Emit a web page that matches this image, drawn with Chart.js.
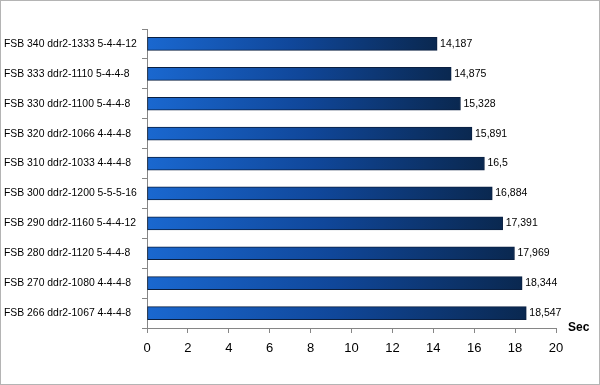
<!DOCTYPE html>
<html>
<head>
<meta charset="utf-8">
<script src="https://cdn.jsdelivr.net/npm/chart.js@4"></script>
<style>
  html, body { margin: 0; padding: 0; background: #fff; }
  #wrap { width: 600px; height: 385px; position: relative; }
</style>
</head>
<body>
<div id="wrap"><canvas id="memchart" width="600" height="385"></canvas></div>
<script>
var labels = [
    "FSB 340 ddr2-1333 5-4-4-12",
    "FSB 333 ddr2-1110 5-4-4-8",
    "FSB 330 ddr2-1100 5-4-4-8",
    "FSB 320 ddr2-1066 4-4-4-8",
    "FSB 310 ddr2-1033 4-4-4-8",
    "FSB 300 ddr2-1200 5-5-5-16",
    "FSB 290 ddr2-1160 5-4-4-12",
    "FSB 280 ddr2-1120 5-4-4-8",
    "FSB 270 ddr2-1080 4-4-4-8",
    "FSB 266 ddr2-1067 4-4-4-8"
];
var times = [14.187, 14.875, 15.328, 15.891, 16.5, 16.884, 17.391, 17.969, 18.344, 18.547];
var xTicks = [0, 2, 4, 6, 8, 10, 12, 14, 16, 18, 20];
var axisTitle = "Sec";

function fmt(v) {
    return String(v).replace(".", ",");
}

// gradient from bar start to bar end
function barGradient(context) {
    var chart = context.chart;
    var x = chart.scales.x;
    if (!x || context.parsed === undefined) return "#1a66cc";
    var x0 = x.getPixelForValue(0);
    var x1 = x.getPixelForValue(context.parsed.x);
    if (!isFinite(x0) || !isFinite(x1) || x1 <= x0) return "#1a66cc";
    var g = chart.ctx.createLinearGradient(x0, 0, x1, 0);
    g.addColorStop(0, "#1a68d0");
    g.addColorStop(0.5, "#10479a");
    g.addColorStop(1, "#0a2850");
    return g;
}

var valueLabels = {
    id: "valueLabels",
    afterDatasetsDraw: function(chart) {
        var ctx = chart.ctx;
        var meta = chart.getDatasetMeta(0);
        ctx.save();
        ctx.font = "10.5px 'Liberation Sans', Arial, sans-serif";
        ctx.fillStyle = "#000";
        ctx.textAlign = "left";
        ctx.textBaseline = "middle";
        meta.data.forEach(function(bar, i) {
            ctx.fillText(fmt(times[i]), bar.x + 3, bar.y);
        });
        // axis title
        ctx.font = "bold 12px 'Liberation Sans', Arial, sans-serif";
        ctx.fillText(axisTitle, chart.chartArea.right + 12, chart.chartArea.bottom);
        // frame
        ctx.strokeStyle = "#b4b4b4";
        ctx.lineWidth = 1;
        ctx.strokeRect(0.5, 0.5, chart.width - 1, chart.height - 1);
        ctx.restore();
    }
};

var ctx_mem = document.getElementById("memchart");

var chart_mem = new Chart(ctx_mem, {
    type: "bar",
    data: {
        labels: labels,
        datasets: [{
            label: axisTitle,
            data: times,
            backgroundColor: barGradient,
            borderColor: "#0a1f40",
            borderWidth: 1,
            borderSkipped: false,
            barThickness: 13
        }]
    },
    plugins: [valueLabels],
    options: {
        indexAxis: "y",
        responsive: false,
        animation: false,
        layout: {
            padding: { top: 29, right: 44, left: 4, bottom: 0 }
        },
        plugins: {
            legend: { display: false },
            tooltip: { enabled: false }
        },
        scales: {
            x: {
                min: 0,
                max: 20,
                afterBuildTicks: function(scale) {
                    scale.ticks = xTicks.map(function(v) { return { value: v }; });
                },
                afterFit: function(scale) {
                    scale.height = 57;
                },
                grid: {
                    drawOnChartArea: false,
                    drawTicks: true,
                    tickLength: 5,
                    color: "#868686"
                },
                border: { color: "#868686" },
                ticks: {
                    padding: 8,
                    color: "#000",
                    font: { family: "'Liberation Sans', Arial, sans-serif", size: 13 }
                }
            },
            y: {
                afterFit: function(scale) {
                    scale.width = 143;
                },
                grid: {
                    drawOnChartArea: false,
                    drawTicks: true,
                    tickLength: 5,
                    offset: true,
                    color: "#868686"
                },
                border: { color: "#868686" },
                ticks: {
                    padding: 4,
                    crossAlign: "far",
                    color: "#000",
                    font: { family: "'Liberation Sans', Arial, sans-serif", size: 10.4 }
                }
            }
        }
    }
});
</script>
</body>
</html>
